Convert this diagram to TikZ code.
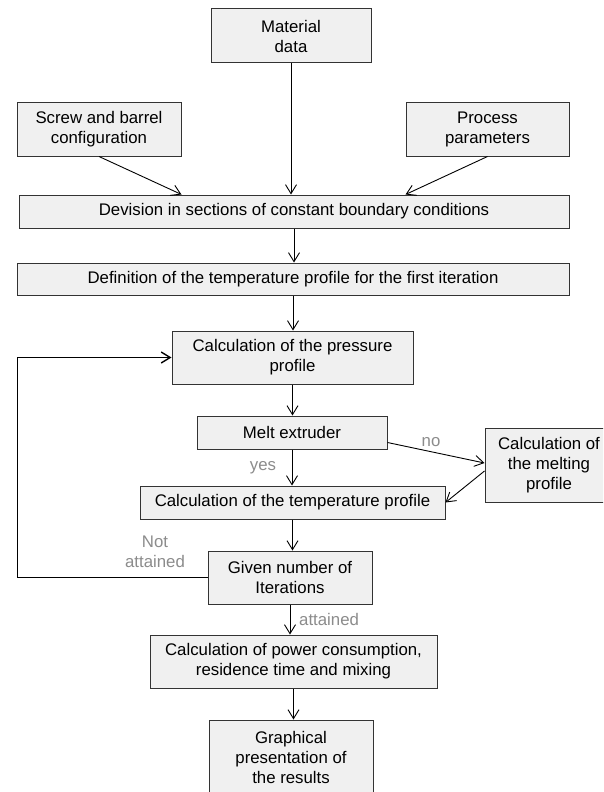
\documentclass[tikz,border=0pt]{standalone}
\usepackage{fontspec}
\setmainfont{Liberation Sans}
\usetikzlibrary{arrows.meta}
\begin{document}
\begin{tikzpicture}[x=1pt,y=-1pt,
  box/.style={draw=black!80, fill=black!6, line width=1pt, align=center, inner sep=0pt,
    font=\fontsize{16.8}{20}\selectfont},
  arr/.style={-{Straight Barb[length=9pt,width=11pt]}, line width=0.9pt},
  lbl/.style={text=black!45, font=\fontsize{16.8}{20}\selectfont, align=center, inner sep=0pt}]
\clip (0,0) rectangle (603,792);
\fill[white] (0,0) rectangle (603,792);

\node[box, minimum width=160pt, minimum height=54pt] (mat) at (291,36) {Material\\data};
\node[box, minimum width=164pt, minimum height=54pt] (screw) at (99,129) {Screw and barrel\\configuration};
\node[box, minimum width=163pt, minimum height=54pt] (proc) at (487.5,129) {Process\\parameters};
\node[box, minimum width=550pt, minimum height=33pt] (dev) at (294,211.5) {Devision in sections of constant boundary conditions};
\node[box, minimum width=552pt, minimum height=32pt] (def) at (293,279) {Definition of the temperature profile for the first iteration};
\node[box, minimum width=241pt, minimum height=53pt] (press) at (292.5,357.5) {Calculation of the pressure\\profile};
\node[box, minimum width=190pt, minimum height=33pt] (melt) at (292,432.5) {Melt extruder};
\node[box, minimum width=128pt, minimum height=74pt] (melting) at (549,465) {Calculation of\\the melting\\profile};
\node[box, minimum width=305pt, minimum height=33pt] (temp) at (292.5,502.5) {Calculation of the temperature profile};
\node[box, minimum width=164pt, minimum height=53pt] (given) at (290,577.5) {Given number of\\Iterations};
\node[box, minimum width=287pt, minimum height=53pt] (power) at (293.5,661.5) {Calculation of power consumption,\\residence time and mixing};
\node[box, minimum width=164pt, minimum height=74pt] (graph) at (291,757) {Graphical\\presentation of\\the results};

\draw[arr] (screw.south) -- (screw.east |- dev.north);
\draw[arr] (proc.south) -- (proc.west |- dev.north);
\draw[arr] (mat.south) -- (mat.south |- dev.north);
\draw[arr] (dev.south) -- (dev.south |- def.north);
\draw[arr] (def.south) -- (def.south |- press.north);
\draw[arr] (press.south) -- (press.south |- melt.north);
\draw[arr] (melt.south) -- (melt.south |- temp.north);
\draw[arr] ([yshift=-10pt]melt.east) -- ([yshift=2pt]melting.west);
\draw[arr] ([yshift=-6pt]melting.west) -- (temp.east);
\draw[arr] (temp.south) -- (temp.south |- given.north);
\draw[arr, line width=1.4pt] (given.west) -- ++(-190,0) coordinate (loop) |- (press.west);
\draw[arr] (given.south) -- (given.south |- power.north);
\draw[arr] (power.south) -- (power.south |- graph.north);

\node[lbl] (no) at (431,442) {no};
\node[lbl] (yes) at (263,468) {yes};
\node[lbl] (notatt) at (155,552) {Not\\attained};
\node[lbl, anchor=west] (att) at (299,619) {attained};
\end{tikzpicture}
\end{document}
